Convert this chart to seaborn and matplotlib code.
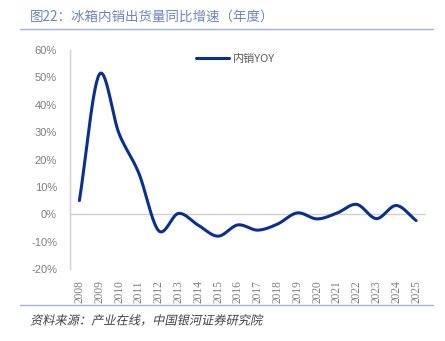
import numpy as np
import pandas as pd
import matplotlib
matplotlib.use("Agg")
import matplotlib.pyplot as plt
import seaborn as sns
from matplotlib.patheffects import AbstractPathEffect
from matplotlib.transforms import Affine2D
from matplotlib.lines import Line2D

years = ["2008", "2009", "2010", "2011", "2012", "2013", "2014", "2015", "2016",
         "2017", "2018", "2019", "2020", "2021", "2022", "2023", "2024", "2025"]
yoy = [5.0, 51.0, 29.5, 15.0, -6.0, 0.3, -4.0, -8.0, -3.9,
       -5.8, -3.6, 0.5, -1.7, 0.4, 3.6, -1.6, 3.2, -2.3]
y_ticks = [-20, -10, 0, 10, 20, 30, 40, 50, 60]
title = "图22：冰箱内销出货量同比增速（年度）"
source = "资料来源：产业在线，中国银河证券研究院"
series_name = "内销YOY"

sns.set_theme(style="white")
plt.rcParams['font.family'] = ['Noto Sans CJK SC', 'DejaVu Sans']

LINE = "#0b2f8f"
GREY_TXT = "#7f7f7f"
AX_GREY = "#d0d0d0"
TITLE_C = "#6f84bd"
RULE_C = "#a3b3d6"


def smooth(xs, ys, n=30):
    # Catmull-Rom style smoothing (like a spreadsheet's smoothed line)
    xs = np.asarray(xs, float)
    ys = np.asarray(ys, float)
    px = np.concatenate([[2 * xs[0] - xs[1]], xs, [2 * xs[-1] - xs[-2]]])
    py = np.concatenate([[2 * ys[0] - ys[1]], ys, [2 * ys[-1] - ys[-2]]])
    ox, oy = [], []
    for i in range(1, len(px) - 2):
        t = np.linspace(0, 1, n, endpoint=False)
        for P, out in ((px, ox), (py, oy)):
            p0, p1, p2, p3 = P[i - 1], P[i], P[i + 1], P[i + 2]
            out.extend(0.5 * ((2 * p1) + (-p0 + p2) * t +
                              (2 * p0 - 5 * p1 + 4 * p2 - p3) * t ** 2 +
                              (-p0 + 3 * p1 - 3 * p2 + p3) * t ** 3))
    ox.append(xs[-1])
    oy.append(ys[-1])
    return np.array(ox), np.array(oy)


class Skew(AbstractPathEffect):
    def __init__(self, deg=12):
        super().__init__()
        self.deg = deg

    def draw_path(self, renderer, gc, tpath, affine, rgbFace=None):
        affine = Affine2D().skew_deg(self.deg, 0) + affine
        renderer.draw_path(gc, tpath, affine, rgbFace)


fig = plt.figure(figsize=(4.45, 3.41), dpi=100)
ax = fig.add_axes([69.5 / 445, (341 - 269) / 341, (426 - 69.5) / 445, (269 - 50) / 341])

sx, sy = smooth(np.arange(len(years)), yoy)
df = pd.DataFrame({"x": sx, "y": sy})
sns.lineplot(data=df, x="x", y="y", ax=ax, color=LINE, linewidth=2.2, sort=False,
             legend=False, zorder=3)

ax.axhline(0, color=AX_GREY, linewidth=1.0, zorder=1)
ax.set_xlim(-0.5, len(years) - 0.5)
ax.set_ylim(-20, 60)
ax.set_yticks(y_ticks)
ax.set_yticklabels([f"{v}%" for v in y_ticks], color=GREY_TXT, fontsize=8,
                   family=['Liberation Sans', 'DejaVu Sans'])
ax.set_xticks(range(len(years)))
ax.set_xticklabels(years, rotation=90, color=GREY_TXT, fontsize=8.3,
                   family=['Liberation Serif', 'DejaVu Serif'])
ax.tick_params(axis='both', length=0)
ax.tick_params(axis='x', pad=8)
ax.tick_params(axis='y', pad=9)
ax.set_xlabel("")
ax.set_ylabel("")
for s in ["top", "right", "bottom"]:
    ax.spines[s].set_visible(False)
ax.spines["left"].set_color(AX_GREY)
ax.spines["left"].set_linewidth(1.0)

handle = Line2D([], [], color=LINE, linewidth=2.2)
leg = ax.legend([handle], [series_name], loc="upper left",
                bbox_to_anchor=(186 / 445, 1 - 44 / 341), bbox_transform=fig.transFigure,
                frameon=False, handlelength=3.0, handletextpad=0.3,
                prop={'family': ['Noto Sans CJK SC', 'DejaVu Sans'], 'size': 8})
for t in leg.get_texts():
    t.set_color("#595959")

fig.text(30 / 445, 1 - 17 / 341, title, color=TITLE_C, fontsize=9.7,
         va="center", ha="left")
fig.add_artist(Line2D([20 / 445, 433 / 445], [1 - 29 / 341, 1 - 29 / 341],
                      color=RULE_C, linewidth=1.0, transform=fig.transFigure))
fig.add_artist(Line2D([20 / 445, 433 / 445], [1 - 305 / 341, 1 - 305 / 341],
                      color=RULE_C, linewidth=1.0, transform=fig.transFigure))
fig.text(30 / 445, 1 - 321 / 341, source, color="#404040", fontsize=8.8,
         va="center", ha="left", path_effects=[Skew(12)])

fig.savefig("out.png", dpi=100)
